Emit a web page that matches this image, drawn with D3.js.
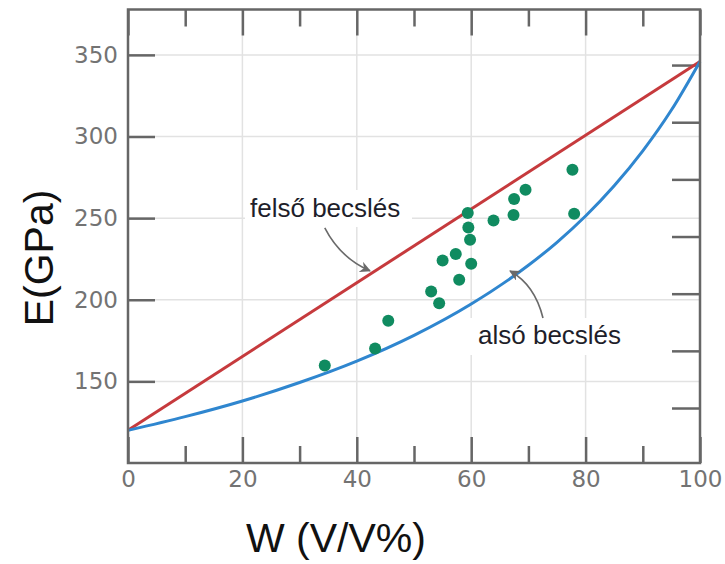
<!DOCTYPE html>
<html>
<head>
<meta charset="utf-8">
<style>
  body { margin: 0; background: #fff; }
  .tick text { font-family: "DejaVu Sans", sans-serif; }
</style>
<script src="https://d3js.org/d3.v7.min.js"></script>
</head>
<body>
<svg id="chart" width="725" height="564"></svg>
<script>
// ---- data ----
var xMajor = [0, 20, 40, 60, 80, 100];
var xMinor = [10, 30, 50, 70, 90];
var yMajor = [150, 200, 250, 300, 350];
var rightTicks = [20, 25, 30, 35, 40, 45, 50];

// measured points: W (V/V%), E (GPa)
var ptW = [34.4, 43.2, 45.5, 53.0, 54.4, 55.0, 57.3, 57.9, 59.4, 59.5, 59.8, 60.0, 63.9, 67.4, 67.5, 69.5, 77.7, 78.0];
var ptE = [159.7, 170.1, 187.2, 205.1, 197.8, 224.1, 228.0, 212.3, 253.1, 244.3, 236.8, 222.1, 248.6, 251.9, 261.7, 267.4, 279.6, 252.7];

// upper bound (straight line)
var upperW = [0, 100];
var upperE = [120, 346];

// lower bound curve
var lowerW = [0, 10, 20, 30, 40, 50, 60, 70, 75, 80, 85, 90, 95, 100];
var lowerE = [120, 128.4, 138.0, 149.3, 162.4, 178.2, 197.4, 221.1, 235.2, 251.3, 269.8, 291.2, 316.2, 346];

// annotation arrows (data units): start, control, tip
var arrowUpper = [[34.4, 244], [37.1, 225.6], [42.3, 217.7]];
var arrowLower = [[72.55, 188.8], [71.15, 209.0], [66.8, 217.6]];

var svg = d3.select("#chart");
var pL = 128, pR = 700, pT = 9.5, pB = 463;

var x = d3.scaleLinear().domain([0, 100]).range([pL, pR]);
var y = d3.scaleLinear().domain([100, 377.8]).range([pB, pT]);
// right side ticks in another unit (no labels)
var y2 = d3.scaleLinear().domain([15.19, 54.86]).range([pB, pT]);

var frameCol = "#666", gridCol = "#e2e2e2";

// grid
var grid = svg.append("g");
grid.selectAll("line.v").data([20, 40, 60, 80]).enter().append("line")
  .attr("x1", d => x(d)).attr("x2", d => x(d))
  .attr("y1", pT).attr("y2", pB)
  .attr("stroke", gridCol).attr("stroke-width", 1.5);
grid.selectAll("line.h").data(yMajor).enter().append("line")
  .attr("x1", pL).attr("x2", pR)
  .attr("y1", d => y(d)).attr("y2", d => y(d))
  .attr("stroke", gridCol).attr("stroke-width", 1.5);

// white label boxes (cover the grid)
svg.append("rect").attr("x", 245).attr("y", 190).attr("width", 167).attr("height", 37).attr("fill", "#fff");
svg.append("rect").attr("x", 470).attr("y", 318).attr("width", 160).attr("height", 37).attr("fill", "#fff");

// axes ticks
function styleAxis(g) {
  g.select(".domain").remove();
  g.selectAll(".tick line").attr("stroke", frameCol).attr("stroke-width", 2.5);
  g.selectAll(".tick text").attr("fill", "#737373").style("font-size", "23px");
}

svg.append("g").attr("transform", "translate(0," + pB + ")")
  .call(d3.axisBottom(x).tickValues(xMajor).tickSize(-26).tickPadding(8).tickFormat(d3.format("d")))
  .call(styleAxis);
svg.append("g").attr("transform", "translate(0," + pB + ")")
  .call(d3.axisBottom(x).tickValues(xMinor).tickSize(-17).tickFormat(""))
  .call(styleAxis);
svg.append("g").attr("transform", "translate(0," + pT + ")")
  .call(d3.axisTop(x).tickValues(xMajor).tickSize(-26).tickFormat(""))
  .call(styleAxis);
svg.append("g").attr("transform", "translate(0," + pT + ")")
  .call(d3.axisTop(x).tickValues(xMinor).tickSize(-17).tickFormat(""))
  .call(styleAxis);
svg.append("g").attr("transform", "translate(" + pL + ",0)")
  .call(d3.axisLeft(y).tickValues(yMajor).tickSize(-27).tickPadding(10).tickFormat(d3.format("d")))
  .call(styleAxis);
svg.append("g").attr("transform", "translate(" + pR + ",0)")
  .call(d3.axisRight(y2).tickValues(rightTicks).tickSize(-28).tickFormat(""))
  .call(styleAxis);

// bound curves
var upper = upperW.map((w, i) => [w, upperE[i]]);
var lower = lowerW.map((w, i) => [w, lowerE[i]]);
var line = d3.line().x(d => x(d[0])).y(d => y(d[1])).curve(d3.curveMonotoneX);

svg.append("path").datum(upper).attr("d", line)
  .attr("fill", "none").attr("stroke", "#c63a3d").attr("stroke-width", 3);
svg.append("path").datum(lower).attr("d", line)
  .attr("fill", "none").attr("stroke", "#2f86cf").attr("stroke-width", 3);

// points
svg.append("g").selectAll("circle")
  .data(ptW.map((w, i) => [w, ptE[i]]))
  .enter().append("circle")
  .attr("cx", d => x(d[0])).attr("cy", d => y(d[1]))
  .attr("r", 6).attr("fill", "#108b60");

// frame
svg.append("rect").attr("x", pL).attr("y", pT)
  .attr("width", pR - pL).attr("height", pB - pT)
  .attr("fill", "none").attr("stroke", frameCol).attr("stroke-width", 2.5);

// arrows
svg.append("defs").append("marker")
  .attr("id", "head").attr("viewBox", "0 0 10 10")
  .attr("refX", 9).attr("refY", 5)
  .attr("markerWidth", 11).attr("markerHeight", 11)
  .attr("markerUnits", "userSpaceOnUse")
  .attr("orient", "auto")
  .append("path").attr("d", "M0,0 L10,5 L0,10 L3,5 Z").attr("fill", "#6a6a6a");

function arrowPath(a) {
  var p = d3.path();
  p.moveTo(x(a[0][0]), y(a[0][1]));
  p.quadraticCurveTo(x(a[1][0]), y(a[1][1]), x(a[2][0]), y(a[2][1]));
  return p.toString();
}
[arrowUpper, arrowLower].forEach(function(a) {
  svg.append("path").attr("d", arrowPath(a))
    .attr("fill", "none").attr("stroke", "#6a6a6a").attr("stroke-width", 1.6)
    .attr("marker-end", "url(#head)");
});

// annotation labels
svg.append("text").attr("x", 250).attr("y", 217)
  .style("font-family", "Liberation Sans, Arial, sans-serif").style("font-size", "26px")
  .attr("fill", "#1e1e2a").text("felső becslés");
svg.append("text").attr("x", 478).attr("y", 344)
  .style("font-family", "Liberation Sans, Arial, sans-serif").style("font-size", "26px")
  .attr("fill", "#1e1e2a").text("alsó becslés");

// axis titles
svg.append("text").attr("x", 336).attr("y", 552).attr("text-anchor", "middle")
  .style("font-family", "Liberation Sans, Arial, sans-serif").style("font-size", "41px")
  .attr("fill", "#111").text("W (V/V%)");
svg.append("text").attr("transform", "translate(53,258) rotate(-90)").attr("text-anchor", "middle")
  .style("font-family", "Liberation Sans, Arial, sans-serif").style("font-size", "41px")
  .attr("fill", "#111").text("E(GPa)");
</script>
</body>
</html>
